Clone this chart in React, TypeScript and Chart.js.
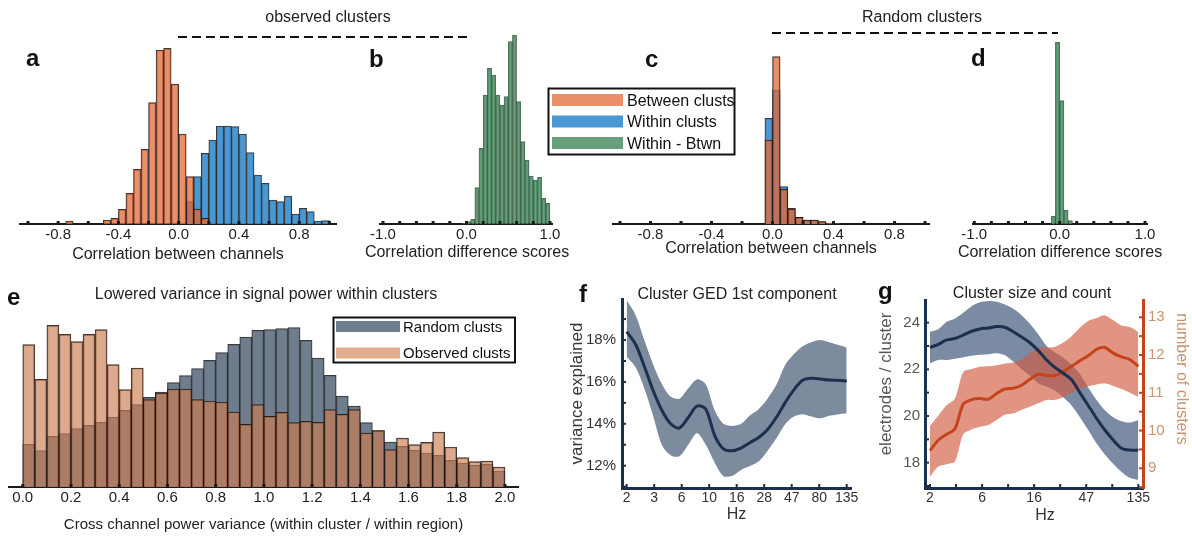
import React, { useEffect, useRef } from 'react';
import { Chart, registerables } from 'chart.js';

Chart.register(...registerables);

const FONT = "'Liberation Sans', Arial, Helvetica, sans-serif";
Chart.defaults.font.family = FONT;
Chart.defaults.color = '#222';

// ---------- Panels a–d : correlation histograms (bin centres, width 0.05) ----------
const BINS_CORR = [
  -0.975, -0.925, -0.875, -0.825, -0.775, -0.725, -0.675, -0.625, -0.575, -0.525,
  -0.475, -0.425, -0.375, -0.325, -0.275, -0.225, -0.175, -0.125, -0.075, -0.025,
  0.025, 0.075, 0.125, 0.175, 0.225, 0.275, 0.325, 0.375, 0.425, 0.475,
  0.525, 0.575, 0.625, 0.675, 0.725, 0.775, 0.825, 0.875, 0.925, 0.975,
];
const A_BETWEEN = [
  0, 0, 0, 0, 0, 9, 0, 0, 0, 0,
  12, 17, 44, 92, 164, 224, 364, 522, 527, 420,
  270, 142, 45, 17, 0, 0, 0, 0, 0, 0,
  0, 0, 0, 0, 0, 0, 0, 0, 0, 0,
];
const A_WITHIN = [
  0, 0, 0, 0, 0, 0, 0, 0, 0, 0,
  0, 0, 0, 0, 0, 0, 0, 0, 0, 0,
  3, 67, 142, 212, 252, 294, 294, 292, 270, 214,
  147, 122, 72, 67, 84, 30, 47, 37, 9, 10,
];
const B_DIFF = [
  0, 0, 0, 0, 0, 0, 0, 0, 0, 0,
  0, 0, 0, 0, 0, 0, 0, 0, 0, 3,
  7, 14, 109, 227, 387, 467, 447, 387, 357, 382,
  547, 567, 367, 247, 192, 144, 132, 140, 77, 62,
];
const C_BETWEEN = [
  0, 0, 0, 0, 0, 0, 0, 0, 0, 0,
  0, 0, 0, 0, 0, 0, 0, 0, 0, 252,
  502, 104, 45, 20, 12, 12, 7, 3, 1, 0,
  0, 0, 0, 0, 0, 0, 0, 0, 0, 0,
];
const C_WITHIN = [
  0, 0, 0, 0, 0, 0, 0, 0, 0, 0,
  0, 0, 0, 0, 0, 0, 0, 0, 0, 317,
  402, 112, 47, 20, 12, 12, 7, 3, 1, 0,
  0, 0, 0, 0, 0, 0, 0, 0, 0, 0,
];
const D_DIFF = [
  0, 0, 0, 0, 0, 0, 0, 0, 0, 0,
  0, 0, 0, 0, 0, 0, 0, 0, 24, 545,
  370, 42, 10, 0, 0, 0, 0, 0, 0, 0,
  0, 0, 0, 0, 0, 0, 0, 0, 0, 0,
];
const CORR_TICKS = [-1, -0.8, -0.6, -0.4, -0.2, 0, 0.2, 0.4, 0.6, 0.8, 1];
const CORR_TICK_LABELS = ['', '-0.8', '', '-0.4', '', '0.0', '', '0.4', '', '0.8', ''];
const DIFF_TICK_LABELS = ['-1.0', '', '', '', '', '0.0', '', '', '', '', '1.0'];

// ---------- Panel e : power variance histograms ----------
const BINS_POW = [
  0.025, 0.075, 0.125, 0.175, 0.225, 0.275, 0.325, 0.375, 0.425, 0.475,
  0.525, 0.575, 0.625, 0.675, 0.725, 0.775, 0.825, 0.875, 0.925, 0.975,
  1.025, 1.075, 1.125, 1.175, 1.225, 1.275, 1.325, 1.375, 1.425, 1.475,
  1.525, 1.575, 1.625, 1.675, 1.725, 1.775, 1.825, 1.875, 1.925, 1.975,
];
const E_RANDOM = [
  128, 109, 152, 160, 175, 185, 194, 210, 230, 247,
  269, 285, 313, 334, 355, 380, 403, 428, 450, 470,
  472, 475, 478, 440, 387, 335, 273, 243, 193, 169,
  135, 122, 110, 102, 95, 80, 72, 65, 68, 48,
];
const E_OBSERVED = [
  427, 323, 485, 458, 436, 458, 472, 367, 292, 357,
  262, 282, 294, 294, 262, 258, 255, 225, 188, 247,
  212, 224, 193, 197, 194, 232, 218, 232, 162, 169,
  112, 147, 127, 134, 165, 120, 88, 76, 78, 60,
];
const POW_TICKS = [0, 0.2, 0.4, 0.6, 0.8, 1.0, 1.2, 1.4, 1.6, 1.8, 2.0];
const POW_TICK_LABELS = ['0.0', '0.2', '0.4', '0.6', '0.8', '1.0', '1.2', '1.4', '1.6', '1.8', '2.0'];

// ---------- Panels f, g : frequency curves ----------
const FREQ_HZ = [
  2.0, 2.37, 2.8, 3.31, 3.92, 4.64, 5.49, 6.5, 7.69, 9.1,
  10.77, 12.75, 15.09, 17.86, 21.13, 25.01, 29.59, 35.02, 41.45, 49.05,
  58.04, 68.69, 81.29, 96.2, 113.84, 135,
];
const HZ_TICKS = [2, 3.386, 5.733, 9.707, 16.435, 27.826, 47.11, 79.77, 135];
const F_HZ_LABELS = ['2', '3', '6', '10', '16', '28', '47', '80', '135'];
const G_HZ_LABELS = ['2', '', '6', '', '16', '', '47', '', '135'];

const F_MEAN = [
  18.4, 17.8, 16.75, 15.6, 14.65, 14.0, 13.8, 14.3, 14.85, 14.7,
  13.45, 12.8, 12.71, 12.84, 13.1, 13.35, 13.72, 14.3, 15.0, 15.62,
  16.08, 16.17, 16.14, 16.09, 16.08, 16.05,
];
const F_UPPER = [
  19.9, 19.2, 18.0, 16.85, 15.9, 15.3, 15.2, 15.7, 16.12, 15.88,
  14.65, 14.0, 13.9, 14.0, 14.4, 14.7, 15.2, 15.85, 16.8, 17.32,
  17.7, 17.9, 18.0, 17.9, 17.78, 17.65,
];
const F_LOWER = [
  17.2, 16.7, 15.7, 14.4, 13.0, 12.5, 12.45, 13.0, 13.55, 13.0,
  12.15, 11.5, 11.52, 11.8, 11.98, 12.2, 12.7, 13.3, 13.97, 14.35,
  14.46, 14.35, 14.26, 14.38, 14.45, 14.5,
];
const F_Y_TICKS = [11, 12, 13, 14, 15, 16, 17, 18, 19];
const F_Y_LABELS = ['', '12%', '', '14%', '', '16%', '', '18%', ''];

const G_SIZE_MEAN = [
  22.94, 23.07, 23.26, 23.32, 23.47, 23.63, 23.73, 23.77, 23.83, 23.8,
  23.61, 23.38, 23.14, 22.8, 22.4, 22.08, 21.83, 21.55, 21.0, 20.45,
  19.9, 19.4, 18.97, 18.62, 18.54, 18.54,
];
const G_SIZE_UPPER = [
  23.61, 23.72, 24.04, 24.17, 24.42, 24.7, 24.87, 24.93, 24.9, 24.78,
  24.6, 24.32, 23.95, 23.5, 23.0, 22.72, 22.5, 22.2, 21.8, 21.22,
  20.69, 20.25, 19.95, 19.78, 19.72, 19.83,
];
const G_SIZE_LOWER = [
  22.26, 22.4, 22.4, 22.45, 22.52, 22.58, 22.62, 22.65, 22.69, 22.6,
  22.33, 22.0, 21.72, 21.4, 21.26, 21.08, 20.8, 20.45, 19.95, 19.4,
  18.83, 18.35, 17.95, 17.6, 17.35, 17.26,
];
const G_COUNT_MEAN = [
  9.47, 9.75, 9.9, 10.05, 10.7, 10.82, 10.85, 10.83, 10.98, 11.1,
  11.12, 11.2, 11.36, 11.49, 11.46, 11.46, 11.56, 11.7, 11.85, 11.98,
  12.15, 12.2, 12.05, 11.95, 11.88, 11.7,
];
const G_COUNT_UPPER = [
  10.12, 10.4, 10.67, 10.85, 11.55, 11.63, 11.69, 11.7, 11.73, 11.77,
  11.8, 11.88, 12.05, 12.18, 12.2, 12.22, 12.33, 12.5, 12.72, 12.9,
  12.98, 13.05, 12.92, 12.78, 12.74, 12.61,
];
const G_COUNT_LOWER = [
  8.78, 9.05, 9.11, 9.18, 9.9, 10.03, 10.1, 10.15, 10.28, 10.42,
  10.45, 10.55, 10.63, 10.72, 10.81, 10.81, 10.88, 11.0, 11.1, 11.17,
  11.22, 11.25, 11.18, 11.1, 11.0, 10.89,
];
const G_SIZE_TICKS = [17, 18, 19, 20, 21, 22, 23, 24];
const G_SIZE_LABELS = ['', '18', '', '20', '', '22', '', '24'];
const G_COUNT_TICKS = [8.5, 9, 9.5, 10, 10.5, 11, 11.5, 12, 12.5, 13];
const G_COUNT_LABELS = ['', '9', '', '10', '', '11', '', '12', '', '13'];

// ---------- styles ----------
const EDGE = 'rgba(28,20,18,0.85)';
const EDGE_GREEN = 'rgba(30,60,40,0.75)';
const ORANGE = 'rgba(226,106,56,0.75)';
const BLUE = 'rgba(55,140,205,0.9)';
const GREEN = 'rgba(75,145,100,0.85)';
const RANDOM_C = 'rgba(95,112,130,0.9)';
const OBSERVED_C = 'rgba(205,125,80,0.65)';
const NAVY = '#1C2F4F';
const RUST = '#C4441C';
const TAN = '#C99473';

type Box = { left: number; top: number; width: number; height: number };

function makeInnerTicks(axes: Record<string, { len: number; color: string; width: number }>) {
  return {
    id: 'innerTicks',
    afterDraw(chart: any) {
      const ctx = chart.ctx;
      Object.keys(axes).forEach((id) => {
        const s = chart.scales[id];
        if (!s) return;
        const { len, color, width } = axes[id];
        ctx.save();
        ctx.strokeStyle = color;
        ctx.lineWidth = width;
        s.ticks.forEach((_t: any, i: number) => {
          const p = s.getPixelForTick(i);
          ctx.beginPath();
          if (s.isHorizontal()) {
            ctx.moveTo(p, s.top);
            ctx.lineTo(p, s.top - len);
          } else if (s.position === 'left') {
            ctx.moveTo(s.right, p);
            ctx.lineTo(s.right + len, p);
          } else {
            ctx.moveTo(s.left, p);
            ctx.lineTo(s.left - len, p);
          }
          ctx.stroke();
        });
        ctx.restore();
      });
    },
  };
}

function barSet(label: string, xs: number[], ys: number[], color: string, edge: string = EDGE) {
  return {
    label,
    data: xs.map((x, i) => ({ x, y: ys[i] })),
    backgroundColor: color,
    borderColor: edge,
    borderWidth: 1,
    grouped: false,
    barPercentage: 1,
    categoryPercentage: 1,
  };
}

function histConfig(datasets: any[], o: any) {
  return {
    type: 'bar',
    data: { datasets },
    options: {
      responsive: false,
      animation: false,
      devicePixelRatio: 1,
      layout: { padding: o.pad },
      plugins: { legend: { display: false }, tooltip: { enabled: false } },
      scales: {
        x: {
          type: 'linear',
          min: o.min,
          max: o.max,
          bounds: 'data',
          offset: false,
          afterBuildTicks: (s: any) => {
            s.ticks = o.ticks.map((v: number) => ({ value: v }));
          },
          afterFit: (s: any) => {
            s.height = o.axisH;
          },
          grid: { display: false, drawTicks: false, offset: false },
          border: { display: true, color: '#1a1a1a', width: 2 },
          ticks: {
            autoSkip: false,
            maxRotation: 0,
            padding: 2,
            color: '#222',
            font: { size: 15 },
            callback: (_v: any, i: number) => o.labels[i],
          },
          title: {
            display: !!o.title,
            text: o.title || '',
            color: '#222',
            font: { size: o.titleSize },
            padding: { top: 0, bottom: 0 },
          },
        },
        y: { display: false, min: 0, max: o.ymax },
      },
    },
    plugins: [makeInnerTicks({ x: { len: 3, color: '#1a1a1a', width: 3 } })],
  };
}

const pts = (xs: number[], ys: number[]) => xs.map((x, i) => ({ x, y: ys[i] }));

function bandSet(ys: number[], fill: any, color: string, axis: string) {
  return {
    data: pts(FREQ_HZ, ys),
    yAxisID: axis,
    borderWidth: 0,
    borderColor: 'transparent',
    backgroundColor: color,
    pointRadius: 0,
    fill,
    tension: 0.3,
  };
}
function meanSet(ys: number[], color: string, axis: string) {
  return {
    data: pts(FREQ_HZ, ys),
    yAxisID: axis,
    borderColor: color,
    borderWidth: 3,
    pointRadius: 0,
    fill: false,
    tension: 0.3,
  };
}

function logX(min: number, max: number, labels: string[], axisH: number, title: any) {
  return {
    type: 'logarithmic',
    min,
    max,
    bounds: 'data',
    afterBuildTicks: (s: any) => {
      s.ticks = HZ_TICKS.map((v) => ({ value: v }));
    },
    afterFit: (s: any) => {
      s.height = axisH;
    },
    grid: { display: false, drawTicks: false },
    border: { display: true, color: NAVY, width: 3 },
    ticks: {
      autoSkip: false,
      maxRotation: 0,
      padding: 2,
      color: '#333',
      font: { size: 14 },
      callback: (_v: any, i: number) => labels[i],
    },
    title,
  };
}

const configA = () =>
  histConfig(
    [barSet('Between clusts', BINS_CORR, A_BETWEEN, ORANGE), barSet('Within clusts', BINS_CORR, A_WITHIN, BLUE)],
    { min: -1.053, max: 1.044, ymax: 540, ticks: CORR_TICKS, labels: CORR_TICK_LABELS, title: 'Correlation between channels', axisH: 40, titleSize: 16, pad: { left: 20, right: 9, top: 4, bottom: 0 } }
  );
const configB = () =>
  histConfig([barSet('Within - Btwn', BINS_CORR, B_DIFF, GREEN, EDGE_GREEN)], {
    min: -1.036, max: 1.024, ymax: 579, ticks: CORR_TICKS, labels: DIFF_TICK_LABELS, title: '', axisH: 36, titleSize: 16, pad: { left: 25, right: 18, top: 4, bottom: 0 },
  });
const configC = () =>
  histConfig(
    [barSet('Between clusts', BINS_CORR, C_BETWEEN, ORANGE), barSet('Within clusts', BINS_CORR, C_WITHIN, BLUE)],
    { min: -1.046, max: 1.026, ymax: 513, ticks: CORR_TICKS, labels: CORR_TICK_LABELS, title: 'Correlation between channels', axisH: 34, titleSize: 16, pad: { left: 23, right: 11, top: 4, bottom: 0 } }
  );
const configD = () =>
  histConfig([barSet('Within - Btwn', BINS_CORR, D_DIFF, GREEN, EDGE_GREEN)], {
    min: -1.015, max: 1.023, ymax: 552, ticks: CORR_TICKS, labels: DIFF_TICK_LABELS, title: '', axisH: 36, titleSize: 16, pad: { left: 23, right: 33, top: 4, bottom: 0 },
  });
const configE = () =>
  histConfig(
    [barSet('Observed clusts', BINS_POW, E_OBSERVED, OBSERVED_C), barSet('Random clusts', BINS_POW, E_RANDOM, RANDOM_C)],
    { min: -0.057, max: 2.054, ymax: 501, ticks: POW_TICKS, labels: POW_TICK_LABELS, title: 'Cross channel power variance (within cluster / within region)', axisH: 47, titleSize: 15, pad: { left: 9, right: 12, top: 4, bottom: 0 } }
  );

const configF = () => ({
  type: 'line',
  data: {
    datasets: [
      meanSet(F_MEAN, NAVY, 'y'),
      bandSet(F_UPPER, '+1', 'rgb(124,139,157)', 'y'),
      bandSet(F_LOWER, false, 'rgb(124,139,157)', 'y'),
    ],
  },
  options: {
    responsive: false,
    animation: false,
    devicePixelRatio: 1,
    layout: { padding: { left: 0, right: 19, top: 20, bottom: 0 } },
    plugins: { legend: { display: false }, tooltip: { enabled: false } },
    scales: {
      x: logX(1.828, 146.6, F_HZ_LABELS, 36, { display: true, text: 'Hz', color: '#333', font: { size: 16 }, padding: { top: 0, bottom: 0 } }),
      y: {
        type: 'linear',
        position: 'left',
        min: 10.935,
        max: 19.96,
        afterBuildTicks: (s: any) => {
          s.ticks = F_Y_TICKS.map((v) => ({ value: v }));
        },
        afterFit: (s: any) => {
          s.width = 62;
        },
        grid: { display: false, drawTicks: false },
        border: { display: true, color: NAVY, width: 3 },
        ticks: { autoSkip: false, padding: 6, color: '#333', font: { size: 15 }, callback: (_v: any, i: number) => F_Y_LABELS[i] },
        title: { display: true, text: 'variance explained', color: '#333', font: { size: 17 }, padding: { top: 7, bottom: 0 } },
      },
    },
  },
  plugins: [makeInnerTicks({ x: { len: 4, color: NAVY, width: 2 }, y: { len: 4, color: NAVY, width: 2 } })],
});

const configG = () => ({
  type: 'line',
  data: {
    datasets: [
      meanSet(G_SIZE_MEAN, NAVY, 'y'),
      meanSet(G_COUNT_MEAN, RUST, 'y2'),
      bandSet(G_COUNT_UPPER, '+1', 'rgba(210,90,65,0.65)', 'y2'),
      bandSet(G_COUNT_LOWER, false, 'rgba(210,90,65,0.65)', 'y2'),
      bandSet(G_SIZE_UPPER, '+1', 'rgba(90,110,140,0.8)', 'y'),
      bandSet(G_SIZE_LOWER, false, 'rgba(90,110,140,0.8)', 'y'),
    ],
  },
  options: {
    responsive: false,
    animation: false,
    devicePixelRatio: 1,
    layout: { padding: { left: 0, right: 0, top: 20, bottom: 0 } },
    plugins: { legend: { display: false }, tooltip: { enabled: false } },
    scales: {
      x: logX(1.808, 148.5, G_HZ_LABELS, 36, { display: false }),
      y: {
        type: 'linear',
        position: 'left',
        min: 16.915,
        max: 24.97,
        afterBuildTicks: (s: any) => {
          s.ticks = G_SIZE_TICKS.map((v) => ({ value: v }));
        },
        afterFit: (s: any) => {
          s.width = 51;
        },
        grid: { display: false, drawTicks: false },
        border: { display: true, color: NAVY, width: 3 },
        ticks: { autoSkip: false, padding: 5, color: '#555', font: { size: 15 }, callback: (_v: any, i: number) => G_SIZE_LABELS[i] },
      },
      y2: {
        type: 'linear',
        position: 'right',
        min: 8.478,
        max: 13.458,
        afterBuildTicks: (s: any) => {
          s.ticks = G_COUNT_TICKS.map((v) => ({ value: v }));
        },
        afterFit: (s: any) => {
          s.width = 49;
        },
        grid: { display: false, drawTicks: false },
        border: { display: true, color: RUST, width: 3 },
        ticks: { autoSkip: false, padding: 5, color: TAN, font: { size: 15 }, callback: (_v: any, i: number) => G_COUNT_LABELS[i] },
      },
    },
  },
  plugins: [
    makeInnerTicks({
      x: { len: 4, color: NAVY, width: 2 },
      y: { len: 4, color: NAVY, width: 2 },
      y2: { len: 4, color: RUST, width: 2 },
    }),
  ],
});

function ChartCanvas({ box, build }: { box: Box; build: () => any }) {
  const ref = useRef<HTMLCanvasElement>(null);
  useEffect(() => {
    const chart = new Chart(ref.current as HTMLCanvasElement, build());
    return () => chart.destroy();
  }, []);
  return (
    <canvas
      ref={ref}
      width={box.width}
      height={box.height}
      style={{ position: 'absolute', left: box.left, top: box.top, width: box.width, height: box.height }}
    />
  );
}

const LEGEND_AD = [
  { label: 'Between clusts', color: '#E98F6A', cy: 100 },
  { label: 'Within clusts', color: '#4B97D2', cy: 121.5 },
  { label: 'Within - Btwn', color: '#66A17B', cy: 143 },
];
const LEGEND_E = [
  { label: 'Random clusts', color: '#6F7E8F', cy: 326.5 },
  { label: 'Observed clusts', color: '#E3AE90', cy: 353 },
];
const LETTERS = [
  { t: 'a', x: 26, y: 66 },
  { t: 'b', x: 369, y: 66.5 },
  { t: 'c', x: 645, y: 66.5 },
  { t: 'd', x: 971, y: 66 },
  { t: 'e', x: 7, y: 305 },
  { t: 'f', x: 579, y: 301.5 },
  { t: 'g', x: 878, y: 298.5 },
];

export default function App() {
  return (
    <div style={{ position: 'absolute', left: 0, top: 0, width: 1192, height: 539, background: '#fff', overflow: 'hidden' }}>
      <ChartCanvas box={{ left: 0, top: 40, width: 345, height: 224 }} build={configA} />
      <ChartCanvas box={{ left: 355, top: 27, width: 215, height: 233 }} build={configB} />
      <ChartCanvas box={{ left: 590, top: 49, width: 350, height: 209 }} build={configC} />
      <ChartCanvas box={{ left: 950, top: 36, width: 230, height: 224 }} build={configD} />
      <ChartCanvas box={{ left: 0, top: 316, width: 530, height: 218 }} build={configE} />
      <ChartCanvas box={{ left: 560, top: 279, width: 310, height: 245 }} build={configF} />
      <ChartCanvas box={{ left: 874, top: 280, width: 318, height: 244 }} build={configG} />
      <svg
        width={1192}
        height={539}
        style={{ position: 'absolute', left: 0, top: 0, pointerEvents: 'none' }}
        fontFamily={FONT}
      >
        <text x={328} y={22} textAnchor="middle" fontSize={16} fill="#222">observed clusters</text>
        <line x1={178} y1={37} x2={467} y2={37} stroke="#111" strokeWidth={2} strokeDasharray="9 5" />
        <text x={922} y={22} textAnchor="middle" fontSize={16} fill="#222">Random clusters</text>
        <line x1={772} y1={33} x2={1058} y2={33} stroke="#111" strokeWidth={2} strokeDasharray="9 5" />
        {LETTERS.map((l) => (
          <text key={l.t} x={l.x} y={l.y} fontSize={24} fontWeight="bold" fill="#111">{l.t}</text>
        ))}
        <text x={467} y={257} textAnchor="middle" fontSize={16} fill="#222">Correlation difference scores</text>
        <text x={1060} y={257} textAnchor="middle" fontSize={16} fill="#222">Correlation difference scores</text>
        <text x={266} y={299} textAnchor="middle" fontSize={16} fill="#222">Lowered variance in signal power within clusters</text>
        <text x={737} y={299} textAnchor="middle" fontSize={16} fill="#222">Cluster GED 1st component</text>
        <text x={1032} y={298} textAnchor="middle" fontSize={16} fill="#222">Cluster size and count</text>
        <text x={1045} y={520} textAnchor="middle" fontSize={16} fill="#333">Hz</text>
        <text transform="translate(885,384) rotate(-90)" textAnchor="middle" dominantBaseline="central" fontSize={17} fill="#555">electrodes / cluster</text>
        <text transform="translate(1182,379) rotate(90)" textAnchor="middle" dominantBaseline="central" fontSize={16} fill={TAN}>number of clusters</text>

        <rect x={548.5} y={88.5} width={186} height={66} fill="#fff" stroke="#111" strokeWidth={2} />
        {LEGEND_AD.map((r) => (
          <g key={r.label}>
            <rect x={552} y={r.cy - 6} width={71} height={12} fill={r.color} />
            <text x={627} y={r.cy + 5.5} fontSize={16} fill="#111">{r.label}</text>
          </g>
        ))}
        <rect x={333.5} y={317.5} width={181.5} height={45} fill="#fff" stroke="#111" strokeWidth={2} />
        {LEGEND_E.map((r) => (
          <g key={r.label}>
            <rect x={336} y={r.cy - 5.5} width={64} height={11} fill={r.color} />
            <text x={403} y={r.cy + 5} fontSize={15} fill="#111">{r.label}</text>
          </g>
        ))}
      </svg>
    </div>
  );
}
